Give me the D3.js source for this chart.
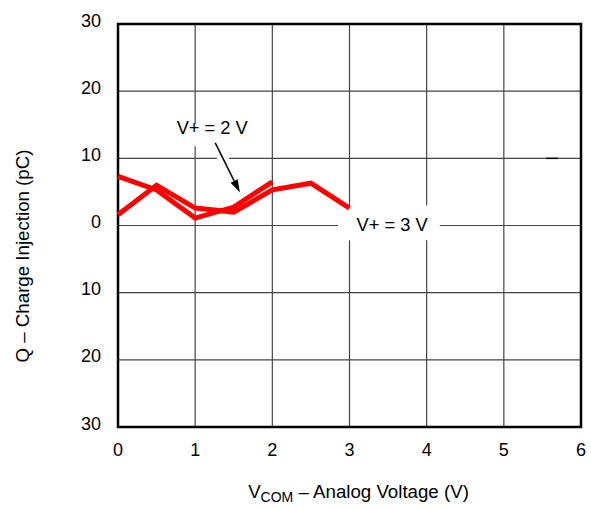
<!DOCTYPE html>
<html><head><meta charset="utf-8">
<script src="https://cdn.jsdelivr.net/npm/d3@7"></script>
<style>body{margin:0;background:#fff}svg{display:block;font-family:"Liberation Sans",Arial,sans-serif}</style>
</head><body><svg id="c" width="591" height="508"></svg>
<script>
const xTicks = [0,1,2,3,4,5,6];
const yTicks = [-30,-20,-10,0,10,20,30];
const yTickLabels = ["30","20","10","0","10","20","30"];
const vcom2 = [0,0.5,1,1.5,2];
const q2 = [7.3,5.3,1.1,2.75,6.5];
const vcom3 = [0,0.5,1,1.5,2,2.5,3];
const q3 = [1.6,6.0,2.6,2.0,5.3,6.3,2.6];
const labels = ["V+ = 2 V","V+ = 3 V"];

const svg = d3.select("#c");
const x = d3.scaleLinear().domain([0,6]).range([118,581]);
const y = d3.scaleLinear().domain([-30,30]).range([427,24]);

// grid
svg.append("g").selectAll("line").data(yTicks.slice(1,-1)).join("line")
  .attr("x1",x(0)).attr("x2",x(6)).attr("y1",d=>y(d)).attr("y2",d=>y(d))
  .attr("stroke","#444").attr("stroke-width",1.2);
svg.append("g").selectAll("line").data(xTicks.slice(1,-1)).join("line")
  .attr("y1",y(-30)).attr("y2",y(30)).attr("x1",d=>x(d)).attr("x2",d=>x(d))
  .attr("stroke","#444").attr("stroke-width",1.2);
// small dark dash
svg.append("line").attr("x1",x(5.55)).attr("x2",x(5.7)).attr("y1",y(10)).attr("y2",y(10))
  .attr("stroke","#000").attr("stroke-width",1.5);

// label backgrounds
svg.append("rect").attr("x",x(2.85)).attr("y",y(3)).attr("width",x(4.17)-x(2.85)).attr("height",y(-2.2)-y(3)).attr("fill","#fff");
svg.append("rect").attr("x",x(0.65)).attr("y",y(15.1)).attr("width",x(1.8)-x(0.65)).attr("height",y(11.8)-y(15.1)).attr("fill","#fff");

// border
svg.append("rect").attr("x",x(0)).attr("y",y(30)).attr("width",x(6)-x(0)).attr("height",y(-30)-y(30))
  .attr("fill","none").attr("stroke","#000").attr("stroke-width",2.5);

const line = d3.line().x(d=>x(d[0])).y(d=>y(d[1]));
svg.append("path").datum(vcom3.map((v,i)=>[v,q3[i]])).attr("d",line)
  .attr("fill","none").attr("stroke","#ff0000").attr("stroke-width",5).attr("stroke-linejoin","miter");
svg.append("path").datum(vcom2.map((v,i)=>[v,q2[i]])).attr("d",line)
  .attr("fill","none").attr("stroke","#ff0000").attr("stroke-width",5).attr("stroke-linejoin","miter");

// arrow
const ax1=x(1.26), ay1=y(12.3), ax2=x(1.58), ay2=y(4.9);
svg.append("line").attr("x1",ax1).attr("y1",ay1).attr("x2",ax2).attr("y2",ay2)
  .attr("stroke","#fff").attr("stroke-width",11);
const ang=Math.atan2(ay2-ay1,ax2-ax1);
const hl=13, hw=4;
const bx=ax2-hl*Math.cos(ang), by=ay2-hl*Math.sin(ang);
svg.append("line").attr("x1",ax1).attr("y1",ay1).attr("x2",bx).attr("y2",by)
  .attr("stroke","#000").attr("stroke-width",1.5);
svg.append("path").attr("d",`M${ax2},${ay2}L${bx+hw*Math.sin(ang)},${by-hw*Math.cos(ang)}L${bx-hw*Math.sin(ang)},${by+hw*Math.cos(ang)}Z`).attr("fill","#000");

// annotations
svg.append("text").attr("x",x(0.76)).attr("y",y(13.55)).attr("font-size",18.3).text(labels[0]);
svg.append("text").attr("x",x(3.09)).attr("y",y(-0.8)).attr("font-size",18.3).text(labels[1]);

// tick labels
svg.append("g").selectAll("text").data(yTicks).join("text")
  .attr("x",101).attr("y",d=>y(d)+2.5).attr("text-anchor","end").attr("font-size",18)
  .text((d,i)=>yTickLabels[i]);
svg.append("g").selectAll("text").data(xTicks).join("text")
  .attr("x",d=>x(d)).attr("y",455.5).attr("text-anchor","middle").attr("font-size",18)
  .text(d=>d);

// axis titles
const xt = svg.append("text").attr("x",358.5).attr("y",497.5).attr("text-anchor","middle").attr("font-size",18.7);
xt.append("tspan").text("V");
xt.append("tspan").attr("font-size",14).attr("dy",4).text("COM");
xt.append("tspan").attr("dy",-4).text(" \u2013 Analog Voltage (V)");
svg.append("text").attr("transform","translate(29,256) rotate(-90)").attr("text-anchor","middle")
  .attr("font-size",18.7).text("Q \u2013 Charge Injection (pC)");
</script></body></html>
